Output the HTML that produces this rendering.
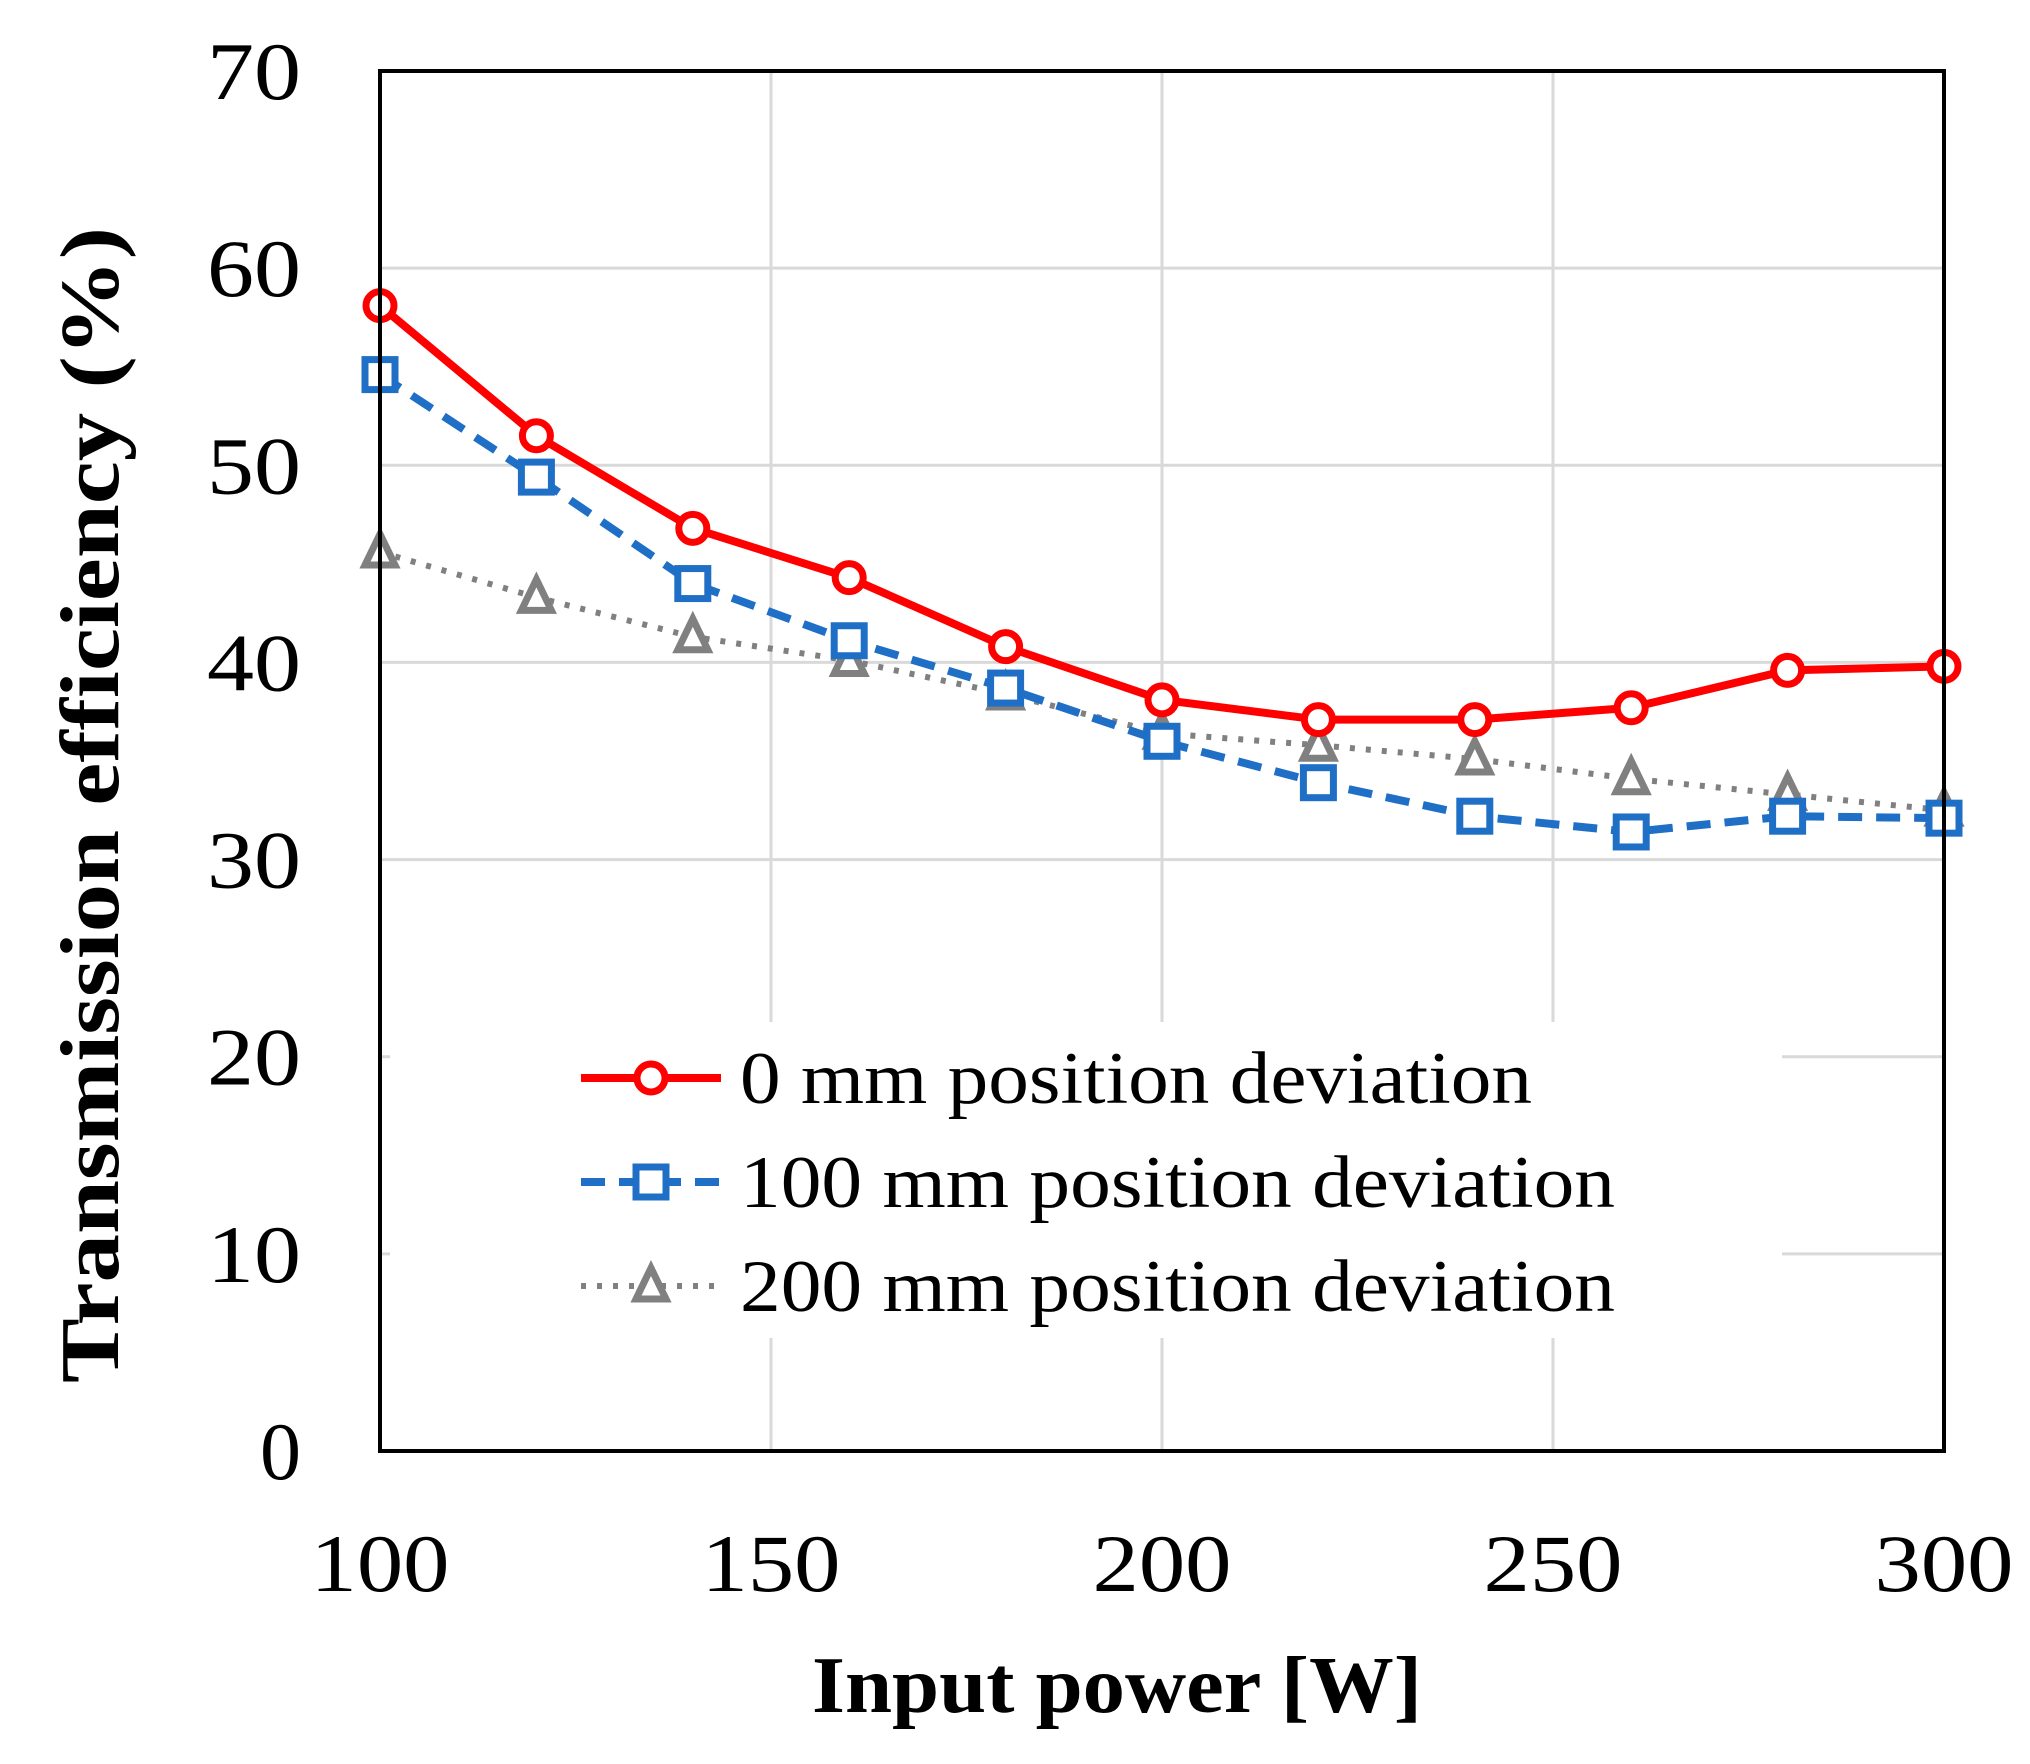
<!DOCTYPE html>
<html><head><meta charset="utf-8"><style>
html,body{margin:0;padding:0;background:#fff;}
svg{display:block;}
text{font-family:"Liberation Serif",serif;fill:#000;}
</style></head><body>
<svg id="chart" width="2030" height="1764" viewBox="0 0 2030 1764" xmlns="http://www.w3.org/2000/svg">
<g id="grid"></g>
<g id="series"></g>
<rect x="380" y="71" width="1564" height="1380" fill="none" stroke="#000" stroke-width="4"/>
<g id="ticks"></g>
<text x="1117" y="1712" text-anchor="middle" font-size="80" font-weight="bold" textLength="610" lengthAdjust="spacingAndGlyphs">Input power [W]</text>
<text transform="translate(118,805) rotate(-90)" text-anchor="middle" font-size="84" font-weight="bold" textLength="1156" lengthAdjust="spacingAndGlyphs">Transmission efficiency (%)</text>
<g id="legend"></g>
</svg>
<script>
const xCategories = [100,120,140,160,180,200,220,240,260,280,300];
const series0 = [58.1,51.5,46.8,44.3,40.8,38.1,37.1,37.1,37.7,39.6,39.8];
const series100 = [54.6,49.4,44.0,41.1,38.7,36.0,33.9,32.2,31.4,32.2,32.1];
const series200 = [45.6,43.3,41.3,40.1,38.4,36.4,35.8,35.1,34.1,33.3,32.5];
const xTicks = [100,150,200,250,300];
const yTicks = [0,10,20,30,40,50,60,70];
const seriesNames = ["0 mm position deviation","100 mm position deviation","200 mm position deviation"];

const NS="http://www.w3.org/2000/svg";
const L=380,R=1944,T=71,B=1451;
function xs(v){return L+(v-100)/200*(R-L);}
function ys(v){return B-v/70*(B-T);}
function mk(tag,attrs,parent){const e=document.createElementNS(NS,tag);for(const k in attrs)e.setAttribute(k,attrs[k]);parent.appendChild(e);return e;}
const grid=document.getElementById('grid'),ticks=document.getElementById('ticks'),ser=document.getElementById('series'),leg=document.getElementById('legend');

yTicks.forEach(v=>{
  if(v>0&&v<70){const g=mk('line',{x1:L,x2:R,y1:ys(v),y2:ys(v),stroke:'#d9d9d9','stroke-width':3},grid);
  
  }
  const a={x:301,y:ys(v)+28,'text-anchor':'end','font-size':82};
  if(String(v).length===2){a.textLength=94;a.lengthAdjust='spacingAndGlyphs';}
  const t=mk('text',a,ticks);t.textContent=v;
  
  
});
xTicks.forEach(v=>{
  if(v>100&&v<300){const g=mk('line',{x1:xs(v),x2:xs(v),y1:T,y2:B,stroke:'#d9d9d9','stroke-width':3},grid);
  
  }
  const t=mk('text',{x:xs(v),y:1591,'text-anchor':'middle','font-size':82,textLength:139,lengthAdjust:'spacingAndGlyphs'},ticks);t.textContent=v;
  
  
});

function marker(type,cx,cy,color,parent){
  let m;
  if(type==='circle') m=mk('circle',{cx:cx,cy:cy,r:14,fill:'#fff',stroke:color,'stroke-width':7},parent);
  else if(type==='square') m=mk('rect',{x:cx-15,y:cy-15,width:30,height:30,fill:'#fff',stroke:color,'stroke-width':7},parent);
  else m=mk('polygon',{points:`${cx},${cy-18} ${cx+15},${cy+13} ${cx-15},${cy+13}`,fill:'#fff',stroke:color,'stroke-width':7},parent);
  return m;
}
const styles=[
  {data:series0,color:'#ff0000',dash:'',w:8,m:'circle',name:'series-0mm'},
  {data:series100,color:'#1f6fc6',dash:'24 14',w:8,m:'square',name:'series-100mm'},
  {data:series200,color:'#808080',dash:'5 11',w:6,m:'triangle',name:'series-200mm'}
];
[2,1,0].forEach(i=>{
  const s=styles[i];
  const g=mk('g',{},ser);
  
  
  const pts=s.data.map((v,j)=>xs(xCategories[j])+','+ys(v)).join(' ');
  const pl=mk('polyline',{points:pts,fill:'none',stroke:s.color,'stroke-width':s.w,'stroke-dasharray':s.dash},g);
  
  
  s.data.forEach((v,j)=>{
    const m=marker(s.m,xs(xCategories[j]),ys(v),s.color,g);
    
    
  });
});

const bg=mk('rect',{x:390,y:1022,width:1392,height:316,fill:'#fff'},leg);


const legLens=[792,875,875];
[1078,1182,1286].forEach((cy,i)=>{
  const s=styles[i];
  const g=mk('g',{},leg);
  
  
  mk('line',{x1:581,x2:721,y1:cy,y2:cy,stroke:s.color,'stroke-width':s.w,'stroke-dasharray':s.dash},g);
  marker(s.m,651,cy,s.color,g);
  const t=mk('text',{x:740,y:cy+25,'font-size':74,textLength:legLens[i],lengthAdjust:'spacingAndGlyphs'},g);t.textContent=seriesNames[i];
  
  
});
</script>
</body></html>
